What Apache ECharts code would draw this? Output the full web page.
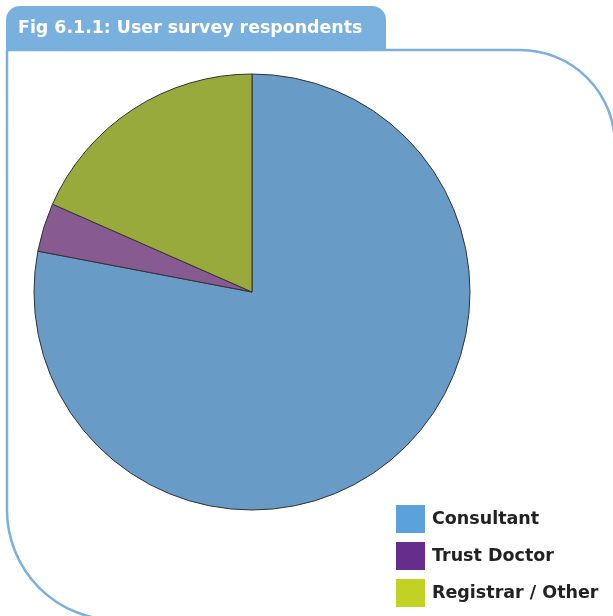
<!DOCTYPE html>
<html>
<head>
<meta charset="utf-8">
<script src="https://cdn.jsdelivr.net/npm/echarts@6/dist/echarts.min.js"></script>
<style>html,body{margin:0;padding:0;background:#fff}#c{width:613px;height:616px}</style>
</head>
<body>
<div id="c"></div>
<script>
const titleText = 'Fig 6.1.1: User survey respondents';
const categories = ['Consultant', 'Trust Doctor', 'Registrar / Other'];
const values = [195, 9, 46];
const sliceColors = ['#689cc7', '#875a91', '#98aa3b'];
const legendColors = ['#5aa2d9', '#662d8c', '#c3d024'];

const chart = echarts.init(document.getElementById('c'), null, {renderer: 'canvas'});
const frameColor = '#7ab0de';
chart.setOption({
  animation: false,
  graphic: [
    {type: 'rect', z: 0, shape: {x: 7, y: 50, width: 608, height: 570, r: [0, 95, 0, 110]},
     style: {fill: '#fff', stroke: frameColor, lineWidth: 2.5}},
    {type: 'rect', z: 1, shape: {x: 6, y: 6, width: 380, height: 45, r: [14, 14, 0, 0]},
     style: {fill: frameColor}},
    {type: 'text', z: 2, left: 18, top: 20,
     style: {text: titleText, fill: '#fff', font: 'bold 17.4px "DejaVu Sans"'}}
  ],
  legend: {
    orient: 'vertical', left: 396, top: 505, width: 217, height: 110, padding: 0,
    itemWidth: 29, itemHeight: 28, itemGap: 9, icon: 'rect',
    data: categories.map((c, i) => ({name: c, itemStyle: {color: legendColors[i], borderWidth: 0}})),
    textStyle: {fontSize: 17.5, fontWeight: 'bold', color: '#222', fontFamily: 'DejaVu Sans', padding: [0, 0, 0, 2]}
  },
  series: [{
    type: 'pie', center: [252, 292], radius: 218, startAngle: 90, clockwise: true,
    label: {show: false}, labelLine: {show: false}, silent: true,
    itemStyle: {borderColor: '#333', borderWidth: 1},
    data: categories.map((c, i) => ({name: c, value: values[i], itemStyle: {color: sliceColors[i]}}))
  }]
});
</script>
</body>
</html>
